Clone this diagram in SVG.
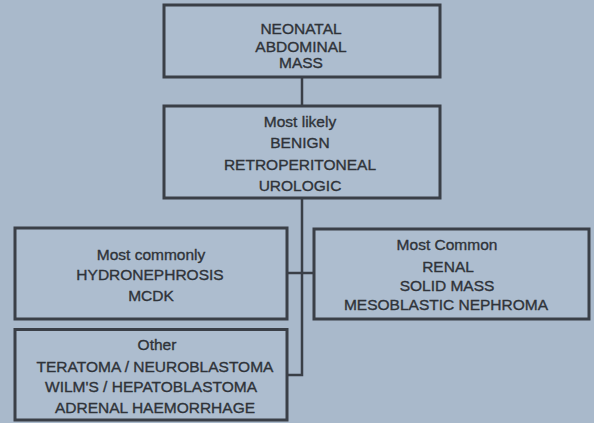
<svg xmlns="http://www.w3.org/2000/svg" width="594" height="423" viewBox="0 0 594 423">
<style>
.box{fill:#adbdcf;stroke:#3a3f47;stroke-width:3}
.t{font-family:"Liberation Sans",Arial,sans-serif;font-size:15.5px;fill:#2f3339;stroke:#2f3339;stroke-width:0.35;text-anchor:middle}
.c{fill:none;stroke:#3a3f47;stroke-width:2.5}
</style>
<rect x="0" y="0" width="594" height="423" fill="#a9b9cb"/>
<g id="connectors">
<line class="c" x1="302" y1="77" x2="302" y2="106"/>
<polyline class="c" points="302,198 302,375 287,375"/>
<line class="c" x1="287" y1="273" x2="314" y2="273"/>
</g>
<g id="n1">
<rect class="box" x="164" y="5" width="276" height="72"/>
<text class="t" x="301" y="34">NEONATAL</text>
<text class="t" x="301" y="52">ABDOMINAL</text>
<text class="t" x="301" y="68">MASS</text>
</g>
<g id="n2">
<rect class="box" x="164" y="106" width="276" height="92"/>
<text class="t" x="300" y="126.5">Most likely</text>
<text class="t" x="300" y="148">BENIGN</text>
<text class="t" x="300" y="169.5">RETROPERITONEAL</text>
<text class="t" x="300" y="190.5">UROLOGIC</text>
</g>
<g id="n3">
<rect class="box" x="15" y="228" width="272" height="91"/>
<text class="t" x="151" y="260">Most commonly</text>
<text class="t" x="150" y="280">HYDRONEPHROSIS</text>
<text class="t" x="151" y="301">MCDK</text>
</g>
<g id="n4">
<rect class="box" x="314" y="229" width="275" height="90"/>
<text class="t" x="447" y="250">Most Common</text>
<text class="t" x="448" y="272">RENAL</text>
<text class="t" x="447" y="291">SOLID MASS</text>
<text class="t" x="446" y="310">MESOBLASTIC NEPHROMA</text>
</g>
<g id="n5">
<rect class="box" x="15" y="329.5" width="272" height="90.5"/>
<text class="t" x="157" y="350">Other</text>
<text class="t" x="155" y="372">TERATOMA / NEUROBLASTOMA</text>
<text class="t" x="151" y="392">WILM'S / HEPATOBLASTOMA</text>
<text class="t" x="155" y="412.5">ADRENAL HAEMORRHAGE</text>
</g>
</svg>
